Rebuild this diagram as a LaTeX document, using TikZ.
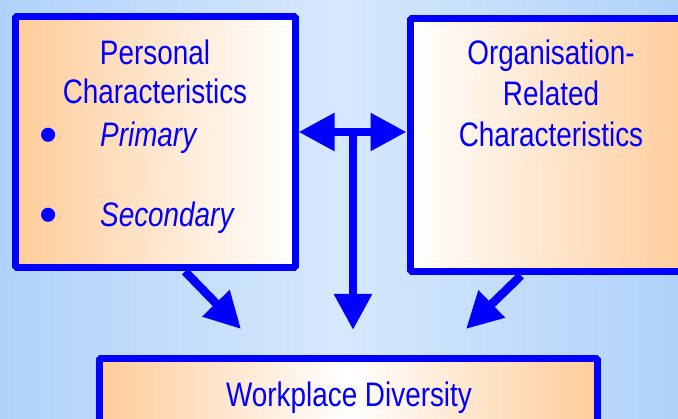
\documentclass[tikz,border=0pt]{standalone}
\usepackage{fontspec}
\setmainfont{Liberation Sans}[FakeStretch=0.82]
\newfontfamily\dotfont{Liberation Sans}
\usetikzlibrary{arrows.meta}

\definecolor{peach}{RGB}{255,204,153}
\definecolor{skyedge}{RGB}{176,210,250}
\definecolor{skymid}{RGB}{214,232,252}
\definecolor{boxblue}{RGB}{0,0,255}

\tikzset{
  box/.style={rectangle, draw=boxblue, line width=7pt, line join=bevel, inner sep=0pt},
  lbl/.style={text=boxblue, font=\fontsize{34}{41}\selectfont, anchor=base, inner sep=0pt},
  dot/.style={text=boxblue, font=\dotfont\fontsize{52}{41}\selectfont, inner sep=0pt},
  arr/.style={draw=boxblue, line width=8.5pt},
}

\begin{document}
\begin{tikzpicture}[x=1pt,y=-1pt,>={Triangle[length=36pt,width=36pt]}]
 \useasboundingbox (0,0) rectangle (678,419);
 \clip (0,0) rectangle (678,419);
 \shade[left color=skyedge, right color=skyedge, middle color=skymid] (0,0) rectangle (678,419);

 % the three boxes
 \node[box, left color=peach, right color=white, minimum width=280pt, minimum height=251pt] (pers) at (155,142.5) {};
 \node[box, left color=white, right color=peach, minimum width=282pt, minimum height=253pt] (org) at (551,145.5) {};
 \node[box, left color=peach, right color=peach, middle color=white, minimum width=498pt, minimum height=200pt] (wd) at (348,459) {};

 \node[lbl] (persA) at (155,65) {Personal};
 \node[lbl] (persB) at (155,104) {Characteristics};
 \node[dot] (dotA) at (49,140) {•};
 \node[lbl, anchor=base west] (prim) at (100,147) {\itshape Primary};
 \node[dot] (dotB) at (49,220) {•};
 \node[lbl, anchor=base west] (sec) at (100,227) {\itshape Secondary};

 \node[lbl] (orgA) at (551,65) {Organisation-};
 \node[lbl] (orgB) at (551,106) {Related};
 \node[lbl] (orgC) at (551,147) {Characteristics};

 \node[lbl] (wdA) at (349,407) {Workplace Diversity};

 % arrows
 \coordinate (tee) at (353,132);
 \coordinate (inL) at (241,329);
 \coordinate (inM) at (353,330);
 \coordinate (inR) at (466,329);

 \draw[arr,<->] (pers.east |- tee) -- (org.west |- tee);
 \draw[arr,->] (tee) -- (inM);
 \draw[arr,->] ([xshift=30pt]pers.south) -- (inL);
 \draw[arr,->] ([xshift=-30pt]org.south) -- (inR);
\end{tikzpicture}
\end{document}
